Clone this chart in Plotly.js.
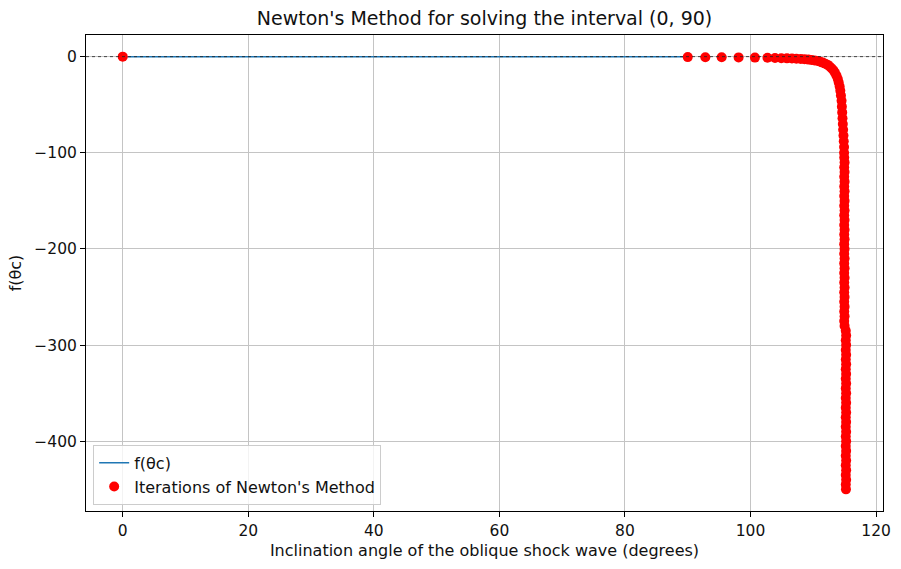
<!DOCTYPE html>
<html>
<head>
<meta charset="utf-8">
<script src="https://cdn.plot.ly/plotly-3.0.1.min.js"></script>
<style>html,body{margin:0;padding:0;background:#fff;}#chart{width:901px;height:569px;}</style>
</head>
<body>
<div id="chart"></div>
<script>
// f(θc) curve over the interval (0, 90)
const curveX = [0, 15, 30, 45, 60, 75, 90];
const curveY = [0, 0, 0, 0, 0, 0, 0];

// Newton iterations: start point and the approach toward the right edge
const iterHeadX = [0, 90.0, 92.8, 95.4, 98.1, 100.7, 102.7, 103.9, 104.9, 105.8, 106.6, 107.3, 108.0, 108.6, 109.2, 109.7, 110.2, 110.7, 111.1, 111.5, 111.9, 112.3, 112.6, 112.9, 113.2, 113.45, 113.7, 113.9, 114.05, 114.2, 114.3, 114.4, 114.5, 114.55, 114.6, 114.65, 114.7, 114.75, 114.8, 114.85, 114.9, 114.9];
const iterHeadY = [0, -0.5, -0.6, -0.7, -0.8, -1.0, -1.2, -1.4, -1.6, -1.8, -2.0, -2.2, -2.5, -2.8, -3.1, -3.5, -4.0, -4.6, -5.3, -6.2, -7.3, -8.6, -10.2, -12.0, -14.2, -16.8, -19.8, -23.2, -27, -31, -35.5, -40.5, -46, -52, -58, -64, -70, -76, -82, -88, -94, -100];

// Newton iterations: near-vertical upper band
const iterUpperX = [114.92, 114.98, 114.92, 114.98, 114.92, 114.98, 114.92, 114.98, 114.92, 114.98, 114.92, 114.98, 114.92, 114.98, 114.92, 114.98, 114.92, 114.98, 114.92, 114.98, 114.92, 114.98, 114.92, 114.98, 114.92, 114.98, 114.92, 114.98, 114.92, 114.98, 114.92, 114.98, 114.92, 114.98, 114.92, 114.98];
const iterUpperY = [-105, -110, -115, -120, -125, -130, -135, -140, -145, -150, -155, -160, -165, -170, -175, -180, -185, -190, -195, -200, -205, -210, -215, -220, -225, -230, -235, -240, -245, -250, -255, -260, -265, -270, -275, -280];

// Newton iterations: near-vertical lower band
const iterLowerX = [115.17, 115.23, 115.17, 115.23, 115.17, 115.23, 115.17, 115.23, 115.17, 115.23, 115.17, 115.23, 115.17, 115.23, 115.17, 115.23, 115.17, 115.23, 115.17, 115.23, 115.17, 115.23, 115.17, 115.23, 115.17, 115.23, 115.17, 115.23, 115.17, 115.23, 115.17, 115.23, 115.17, 115.2];
const iterLowerY = [-285, -290, -295, -300, -305, -310, -315, -320, -325, -330, -335, -340, -345, -350, -355, -360, -365, -370, -375, -380, -385, -390, -395, -400, -405, -410, -415, -420, -425, -430, -435, -440, -445, -450];

const xTicks = [0, 20, 40, 60, 80, 100, 120];
const yTicks = [0, -100, -200, -300, -400];

const iterX = iterHeadX.concat(iterUpperX, iterLowerX);
const iterY = iterHeadY.concat(iterUpperY, iterLowerY);

const font = "DejaVu Sans, sans-serif";

const traces = [
  {
    x: curveX, y: curveY, type: 'scatter', mode: 'lines',
    name: 'f(θc)',
    line: {color: '#1f77b4', width: 1.5}
  },
  {
    x: iterX, y: iterY, type: 'scatter', mode: 'markers',
    name: "Iterations of Newton's Method",
    marker: {color: '#ff0000', size: 10, line: {width: 0}}
  }
];

const axisCommon = {
  showline: true, mirror: true, linecolor: '#000', linewidth: 1,
  ticks: 'outside', ticklen: 5, tickwidth: 1, tickcolor: '#000',
  showgrid: true, gridcolor: '#c4c4c4', gridwidth: 1,
  zeroline: false,
  tickfont: {family: font, size: 15.5, color: '#111'}
};

const layout = {
  width: 901, height: 569,
  margin: {l: 86, r: 18, t: 35, b: 58},
  paper_bgcolor: '#fff', plot_bgcolor: '#fff',
  title: {text: "Newton's Method for solving the interval (0, 90)", font: {family: font, size: 19, color: '#111'}, xref: 'paper', x: 0.5, xanchor: 'center', y: 0.968, yanchor: 'middle'},
  xaxis: Object.assign({}, axisCommon, {
    range: [-5.85, 121.1], tickvals: xTicks, ticktext: xTicks.map(String),
    title: {text: 'Inclination angle of the oblique shock wave (degrees)', font: {family: font, size: 16, color: '#111'}, standoff: 6}
  }),
  yaxis: Object.assign({}, axisCommon, {
    range: [-472.5, 22.5], tickvals: yTicks, ticktext: yTicks.map(v => v < 0 ? '\u2212' + Math.abs(v) : String(v)),
    title: {text: 'f(θc)', font: {family: font, size: 16, color: '#111'}, standoff: 8}
  }),
  shapes: [
    {type: 'line', xref: 'paper', yref: 'y', x0: 0, x1: 1, y0: 0, y1: 0,
     line: {color: '#222', width: 0.8, dash: 'dot'}, layer: 'above'}
  ],
  legend: {
    x: 0.009, y: 0.013, xanchor: 'left', yanchor: 'bottom',
    bgcolor: 'rgba(255,255,255,0.8)', bordercolor: '#cccccc', borderwidth: 1,
    font: {family: font, size: 16, color: '#111'}
  },
  showlegend: true
};

Plotly.newPlot('chart', traces, layout, {displayModeBar: false, staticPlot: true});
</script>
</body>
</html>
